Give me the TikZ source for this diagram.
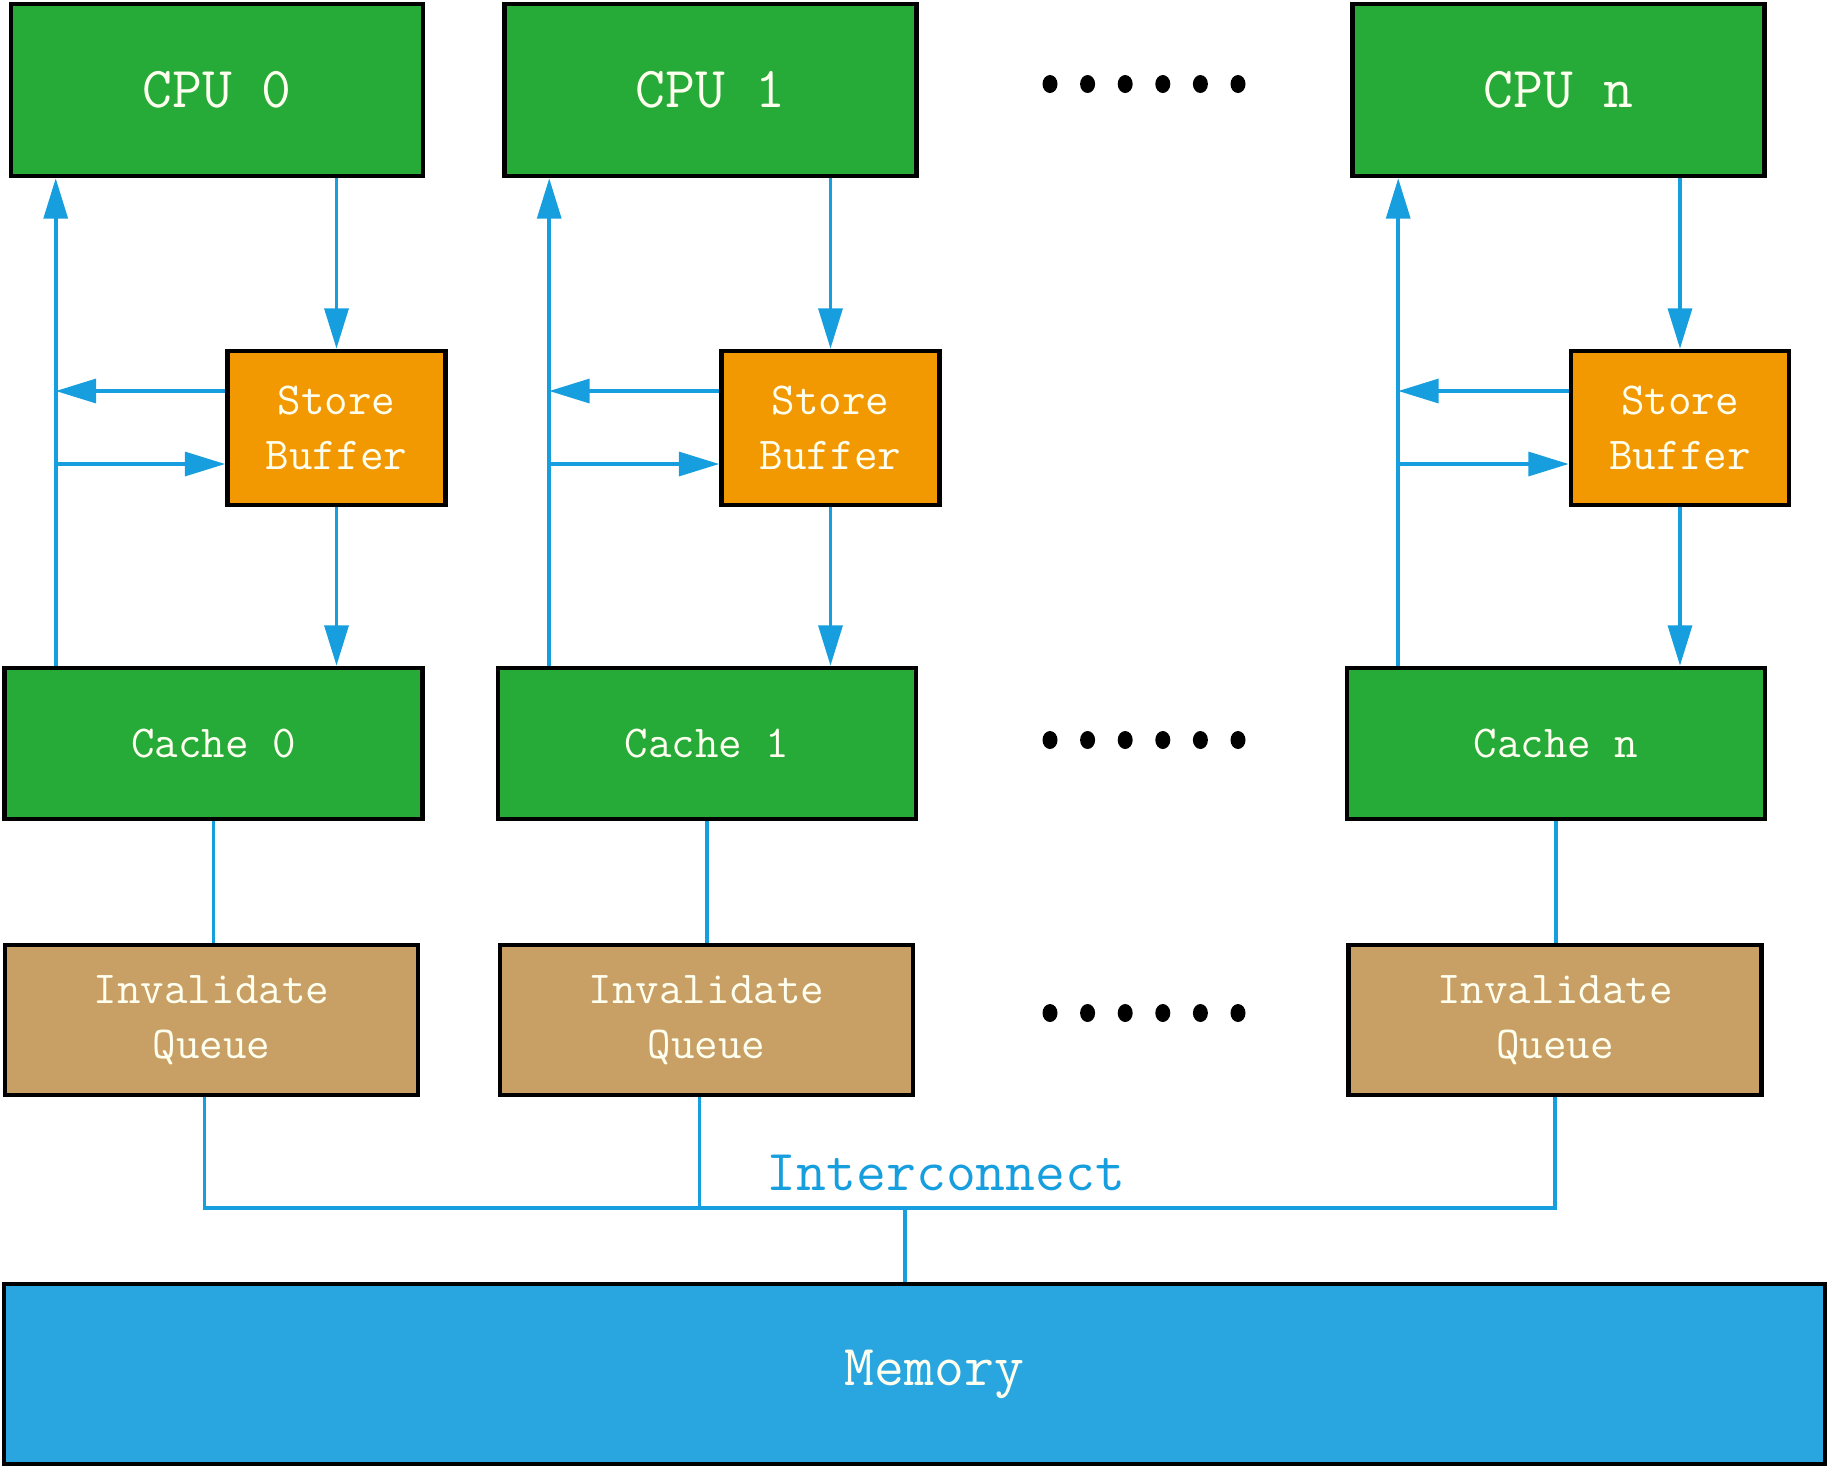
\documentclass[tikz,border=0pt]{standalone}
\definecolor{cpugreen}{RGB}{38, 171, 57}
\definecolor{sborange}{RGB}{242, 152, 0}
\definecolor{iqtan}{RGB}{200, 160, 102}
\definecolor{memblue}{RGB}{41, 166, 224}
\definecolor{wireblue}{RGB}{22, 158, 222}
\definecolor{labelwhite}{RGB}{255, 255, 240}
\usetikzlibrary{arrows.meta, positioning, calc}
\tikzset{
  unit/.style={draw=black, line width=1.3pt, text=labelwhite, align=center, inner sep=0pt,
    font=\ttfamily\fontsize{13}{15.6}\selectfont},
  bigtext/.style={font=\ttfamily\fontsize{16.5}{20}\selectfont},
  cpubox/.style={unit, bigtext, fill=cpugreen, minimum width=4.12cm, minimum height=1.72cm},
  sbbox/.style={unit, fill=sborange, minimum width=2.18cm, minimum height=1.54cm},
  cachebox/.style={unit, fill=cpugreen, minimum width=4.18cm, minimum height=1.51cm},
  iqbox/.style={unit, fill=iqtan, minimum width=4.13cm, minimum height=1.50cm},
  membox/.style={unit, bigtext, fill=memblue, minimum width=18.21cm, minimum height=1.80cm},
  wire/.style={draw=wireblue, line width=1.05pt},
  arr/.style={wire, -{Triangle[length=11.5pt, width=6.8pt]}}
}

\begin{document}
\begin{tikzpicture}
  \useasboundingbox (0, 0) rectangle (18.29, -14.68);

  % CPUs
  \node[cpubox] (cpu0) at (2.17, -0.90) {CPU 0};
  \node[cpubox] (cpu1) at (7.105, -0.90) {CPU 1};
  \node[cpubox] (cpun) at (15.585, -0.90) {CPU n};

  % Store buffers
  \node[sbbox] (sb0) at (3.365, -4.28) {Store\\Buffer};
  \node[sbbox] (sb1) at (8.305, -4.28) {Store\\Buffer};
  \node[sbbox] (sbn) at (16.80, -4.28) {Store\\Buffer};

  % Caches
  \node[cachebox] (cache0) at (2.135, -7.435) {Cache 0};
  \node[cachebox] (cache1) at (7.07, -7.435) {Cache 1};
  \node[cachebox] (cachen) at (15.56, -7.435) {Cache n};

  % Invalidate queues
  \node[iqbox] (iq0) at (2.115, -10.20) {Invalidate\\Queue};
  \node[iqbox] (iq1) at (7.065, -10.20) {Invalidate\\Queue};
  \node[iqbox] (iqn) at (15.55, -10.20) {Invalidate\\Queue};

  % Memory
  \node[membox] (mem) at (9.145, -13.74) {\hspace*{4mm}Memory};

  % Column 0
  \coordinate (up0) at ($(cache0.north west)+(0.535, 0)$);
  \draw[arr] (up0) -- (up0 |- cpu0.south);
  \draw[arr] (cpu0.south -| sb0.north) -- (sb0.north);
  \draw[arr] (sb0.south) -- (sb0.south |- cache0.north);
  \draw[arr] ([yshift=3.7mm]sb0.west) -- ([yshift=3.7mm]sb0.west -| up0);
  \draw[arr] ([yshift=-3.6mm]sb0.west -| up0) -- ([yshift=-3.6mm]sb0.west);
  \draw[wire] (cache0.south) -- (cache0.south |- iq0.north);

  % Column 1
  \coordinate (up1) at ($(cache1.north west)+(0.535, 0)$);
  \draw[arr] (up1) -- (up1 |- cpu1.south);
  \draw[arr] (cpu1.south -| sb1.north) -- (sb1.north);
  \draw[arr] (sb1.south) -- (sb1.south |- cache1.north);
  \draw[arr] ([yshift=3.7mm]sb1.west) -- ([yshift=3.7mm]sb1.west -| up1);
  \draw[arr] ([yshift=-3.6mm]sb1.west -| up1) -- ([yshift=-3.6mm]sb1.west);
  \draw[wire] (cache1.south) -- (cache1.south |- iq1.north);

  % Column n
  \coordinate (upn) at ($(cachen.north west)+(0.535, 0)$);
  \draw[arr] (upn) -- (upn |- cpun.south);
  \draw[arr] (cpun.south -| sbn.north) -- (sbn.north);
  \draw[arr] (sbn.south) -- (sbn.south |- cachen.north);
  \draw[arr] ([yshift=3.7mm]sbn.west) -- ([yshift=3.7mm]sbn.west -| upn);
  \draw[arr] ([yshift=-3.6mm]sbn.west -| upn) -- ([yshift=-3.6mm]sbn.west);
  \draw[wire] (cachen.south) -- (cachen.south |- iqn.north);

  % Interconnect
  \coordinate (tap) at (9.05, -12.08);
  \draw[wire] ([xshift=-0.7mm]iq0.south) |- (tap) -| (iqn.south);
  \draw[wire] ([xshift=-0.7mm]iq1.south) -- ([xshift=-0.7mm]iq1.south |- tap);
  \draw[wire] (tap) -- (tap |- mem.north);
  \node[bigtext, text=wireblue, anchor=base] (ic) at (9.46, -11.90) {Interconnect};

  % Dots
  \foreach \y in {0.84, 7.40, 10.13}
    \foreach \i in {0, ..., 5}
      \fill (10.50+0.376*\i, -\y) ellipse (0.075 and 0.09);
\end{tikzpicture}
\end{document}
